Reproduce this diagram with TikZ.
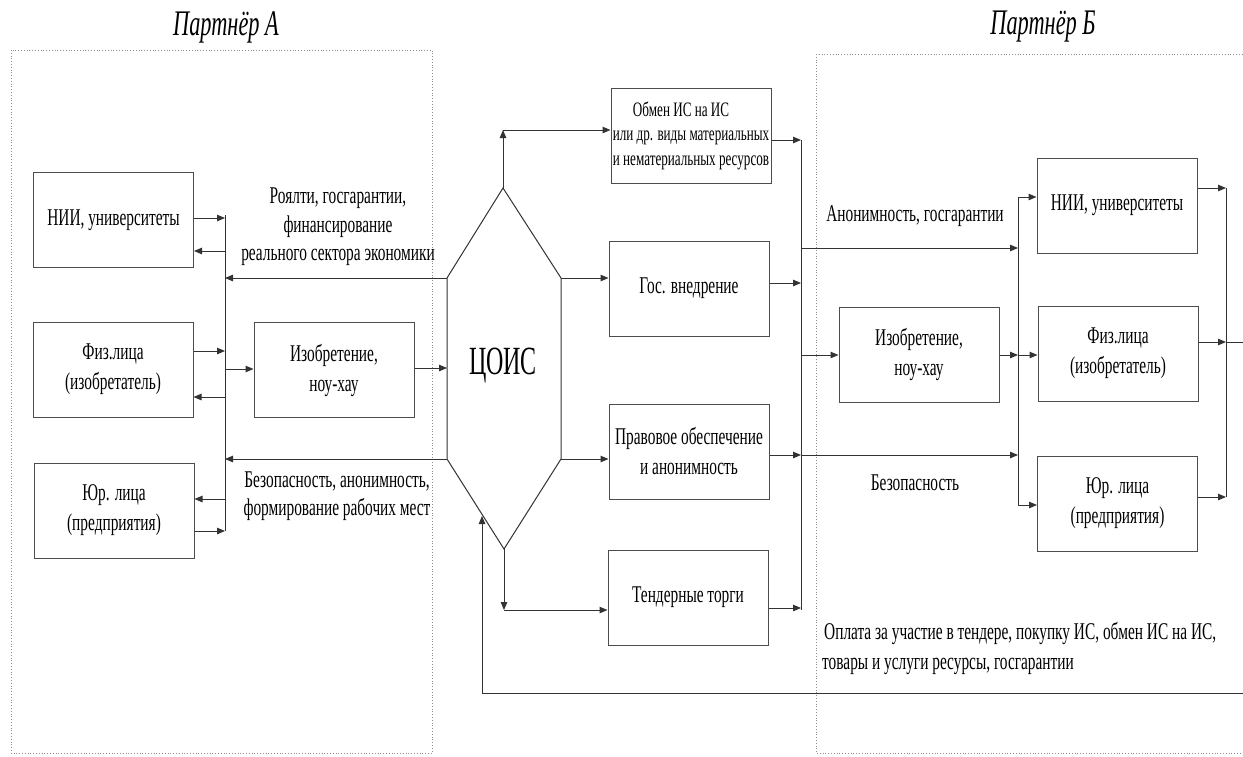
\documentclass[tikz,border=0pt]{standalone}
\usepackage{fontspec}
\setmainfont[FakeStretch=0.64]{Liberation Serif}
\newfontfamily\coisfont[FakeStretch=0.6]{Liberation Serif}
\newfontfamily\ttlfont[FakeStretch=0.62]{Liberation Serif}
\usetikzlibrary{arrows.meta}
\tikzset{
  box/.style={draw=black!70, line width=1pt, minimum width=160pt, minimum height=95pt,
    inner sep=0pt, align=center, font=\fontsize{24}{30}\selectfont},
  lbl/.style={inner sep=0pt, align=center, font=\fontsize{24}{28.5}\selectfont},
  ttl/.style={inner sep=0pt, font=\ttlfont\fontsize{36}{40}\selectfont\itshape},
  ln/.style={draw=black!80, line width=1pt},
  arr/.style={ln, -{Triangle[length=8pt,width=6.5pt]}},
  frame/.style={draw=black!45, line width=0.8pt, dotted},
}
\begin{document}
\begin{tikzpicture}[x=1pt,y=-1pt]
\useasboundingbox (0,0) rectangle (1243,756);
\fill[white] (0,0) rectangle (1243,756);

% frames
\draw[frame] (11,50) rectangle (432,753);
\draw[frame] (816,54) -- (1250,54);
\draw[frame] (816,54) -- (816,753) -- (1250,753);

% titles
\node[ttl] (tA) at (226,27) {Партнёр А};
\node[ttl] (tB) at (1043,27) {Партнёр Б};

% Partner A boxes
\node[box] (niiA) at (113.5,220) {НИИ, университеты};
\node[box] (fizA) at (113,369.5) {Физ.лица\\(изобретатель)};
\node[box] (yurA) at (114,510.5) {Юр. лица\\(предприятия)};
\node[box] (izoA) at (334,370) {Изобретение,\\ноу-хау};

% middle boxes
\node[box, font=\fontsize{20.5}{24.5}\selectfont] (obmen) at (691,135.5) {Обмен ИС на ИС\hspace*{20pt}\\или др. виды материальных\\и нематериальных ресурсов};
\node[box] (gos) at (689,288.5) {Гос. внедрение};
\node[box] (prav) at (689,451.5) {Правовое обеспечение\\и анонимность};
\node[box] (tender) at (688,597.5) {Тендерные торги};

% Partner B boxes
\node[box] (izoB) at (919,354.5) {Изобретение,\\ноу-хау};
\node[box] (niiB) at (1117,205.5) {НИИ, университеты};
\node[box] (fizB) at (1118,353.5) {Физ.лица\\(изобретатель)};
\node[box] (yurB) at (1117.5,503.5) {Юр. лица\\(предприятия)};

% hexagon
\coordinate (hT) at (503,188);
\coordinate (hUL) at (447,278);
\coordinate (hUR) at (561,278);
\coordinate (hLR) at (561,459);
\coordinate (hLL) at (447,459);
\coordinate (hB) at (504,549);
\draw[ln] (hT) -- (hUR) -- (hLR) -- (hB) -- (hLL) -- (hUL) -- cycle;
\node[inner sep=0pt, font=\coisfont\fontsize{40}{44}\selectfont] (cois) at (503,366) {ЦОИС};

% left bus
\coordinate (busAt) at (225,215);
\coordinate (busAb) at (225,531);
\draw[ln] (busAt) -- (busAb);
\coordinate (bA1) at (225,218);
\coordinate (bA2) at (225,251);
\coordinate (bA3) at (225,351);
\coordinate (bA4) at (225,397);
\coordinate (bA5) at (225,369);
\coordinate (bA6) at (225,499);
\coordinate (bA7) at (225,531);
\draw[arr] (niiA.east |- bA1) -- (bA1);
\draw[arr] (bA2) -- (niiA.east |- bA2);
\draw[arr] (fizA.east |- bA3) -- (bA3);
\draw[arr] (bA4) -- (fizA.east |- bA4);
\draw[arr] (bA5) -- (izoA.west |- bA5);
\draw[arr] (bA6) -- (yurA.east |- bA6);
\draw[arr] (yurA.east |- bA7) -- (bA7);
\draw[arr] (hUL) -- (hUL -| busAt);
\draw[arr] (hLL) -- (hLL -| busAt);
\coordinate (hIn) at (447,368);
\draw[arr] (izoA.east |- hIn) -- (hIn);

% labels A
\node[lbl] (roy) at (338,227) {Роялти, госгарантии,\\финансирование\\реального сектора экономики};
\node[lbl] (bezA) at (337,496) {Безопасность, анонимность,\\формирование рабочих мест};

% hexagon to middle boxes
\coordinate (up1) at (503,130);
\draw[arr] (hT) -- (up1);
\draw[arr] (up1) -- (obmen.west |- up1);
\draw[arr] (hUR) -- (gos.west |- hUR);
\draw[arr] (hLR) -- (prav.west |- hLR);
\coordinate (dn1) at (504,610);
\draw[arr] (hB) -- (dn1);
\draw[arr] (dn1) -- (tender.west |- dn1);

% middle bus
\coordinate (busMt) at (801,140);
\coordinate (busMb) at (801,610);
\draw[ln] (busMt) -- (busMb);
\coordinate (m1) at (801,140);
\coordinate (m2) at (801,283);
\coordinate (m3) at (801,455);
\coordinate (m4) at (801,608);
\draw[arr] (obmen.east |- m1) -- (m1);
\draw[arr] (gos.east |- m2) -- (m2);
\draw[arr] (prav.east |- m3) -- (m3);
\draw[arr] (tender.east |- m4) -- (m4);

% right bus B
\coordinate (busBt) at (1018,197);
\coordinate (busBb) at (1018,505);
\draw[ln] (busBt) -- (busBb);
\coordinate (m5) at (801,248);
\coordinate (m6) at (801,355);
\draw[arr] (m5) -- (m5 -| busBt);
\draw[arr] (m6) -- (izoB.west |- m6);
\draw[arr] (m3) -- (m3 -| busBt);
\node[lbl] (anon) at (915,216) {Анонимность, госгарантии};
\node[lbl] (bezB) at (915,483) {Безопасность};

\draw[arr] (busBt) -- (niiB.west |- busBt);
\coordinate (b2) at (1018,355);
\draw[arr] (izoB.east |- b2) -- (b2);
\draw[arr] (b2) -- (fizB.west |- b2);
\draw[arr] (busBb) -- (yurB.west |- busBb);

% far right bus
\coordinate (busRt) at (1226,188);
\coordinate (busRb) at (1226,497);
\draw[ln] (busRt) -- (busRb);
\coordinate (r2) at (1226,342);
\coordinate (rEnd) at (1243,342);
\draw[arr] (niiB.east |- busRt) -- (busRt);
\draw[arr] (fizB.east |- r2) -- (r2);
\draw[ln] (r2) -- (rEnd);
\draw[arr] (yurB.east |- busRb) -- (busRb);

% feedback
\coordinate (fbR) at (1243,693);
\coordinate (fbL) at (482,693);
\coordinate (fbT) at (482,516);
\draw[arr] (fbR) -- (fbL) -- (fbT);
\node[lbl, anchor=west, align=left, font=\fontsize{24}{30}\selectfont] (opl) at (822,648) {\hspace*{2pt}Оплата за участие в тендере, покупку ИС, обмен ИС на ИС,\\товары и услуги ресурсы, госгарантии};
\end{tikzpicture}
\end{document}
